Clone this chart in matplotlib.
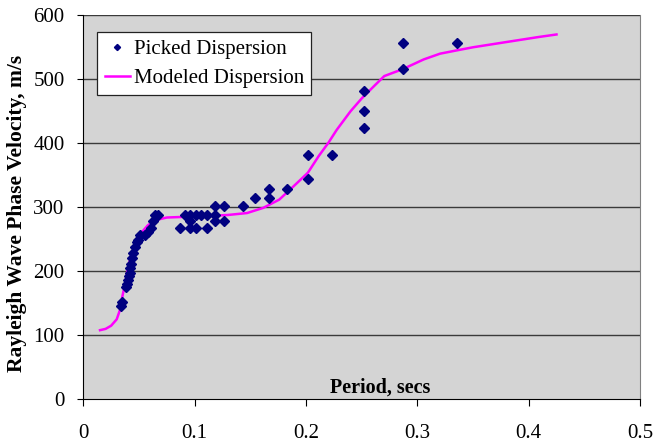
import matplotlib
matplotlib.use("Agg")
import matplotlib.pyplot as plt

# Picked dispersion points (period in s, phase velocity in m/s)
picked_period = [0.034, 0.035, 0.038, 0.039, 0.040, 0.041, 0.042, 0.042, 0.043, 0.044,
                 0.045, 0.046, 0.048, 0.0495, 0.051, 0.055, 0.058, 0.0607, 0.0627, 0.064,
                 0.067, 0.0872, 0.0913, 0.096, 0.101, 0.106, 0.111, 0.096, 0.096, 0.101,
                 0.111, 0.1186, 0.1186, 0.1186, 0.126, 0.126, 0.1437, 0.1546, 0.167, 0.167,
                 0.1826, 0.2017, 0.2017, 0.2232, 0.252, 0.252, 0.252, 0.2871, 0.2871, 0.3357]
picked_velocity = [145, 152, 175, 180, 186, 192, 198, 205, 212, 220,
                   228, 238, 245, 249, 257, 257, 262, 268, 278, 288,
                   288, 268, 288, 288, 288, 288, 288, 278, 268, 268,
                   268, 302, 288, 278, 302, 278, 302, 314, 328, 314,
                   328, 381, 344, 381, 481, 451, 424, 556, 516, 556]

# Modeled dispersion curve
model_period = [0.015, 0.02, 0.025, 0.03, 0.033, 0.035, 0.038, 0.04, 0.043, 0.047,
                0.052, 0.058, 0.065, 0.075, 0.09, 0.11, 0.13, 0.147, 0.1615, 0.176,
                0.1908, 0.2017, 0.2114, 0.2202, 0.2276, 0.24, 0.25, 0.2615, 0.2703, 0.2871,
                0.3057, 0.3204, 0.335, 0.35, 0.3793, 0.4088, 0.425]
model_velocity = [108, 110, 115, 125, 140, 160, 185, 205, 225, 245,
                  260, 272, 280, 284, 285, 286, 288, 291, 299, 312,
                  336, 354, 380, 401, 421, 450, 470, 490, 505, 516,
                  531, 540, 545, 550, 558, 566, 570]

xticks = [0, 0.1, 0.2, 0.3, 0.4, 0.5]
xtick_labels = ["0", "0.1", "0.2", "0.3", "0.4", "0.5"]
yticks = [0, 100, 200, 300, 400, 500, 600]

plt.rcParams['font.family'] = ['Liberation Serif', 'DejaVu Serif']

fig = plt.figure(figsize=(6.53, 4.44), dpi=100)
ax = fig.add_axes([0.1276, 0.1007, 0.8525, 0.8649])
ax.set_facecolor('#d4d4d4')

for y in yticks[1:]:
    ax.axhline(y, color='#3a3a3a', lw=1.0, zorder=1)

ax.plot(model_period, model_velocity, color='#ff00ff', lw=1.8, zorder=2,
        label='Modeled Dispersion')
ax.plot(picked_period, picked_velocity, linestyle='none', marker='D', ms=4.8,
        color='#000080', zorder=3, label='Picked Dispersion')

ax.set_xlim(0, 0.5)
ax.set_ylim(0, 600)
ax.set_xticks(xticks)
ax.set_xticklabels(xtick_labels)
ax.set_yticks(yticks)
ax.tick_params(axis='x', direction='out', length=5, pad=12.5, labelsize=15)
ax.tick_params(axis='y', direction='out', length=4.5, pad=9, labelsize=15)
ax.spines['top'].set_visible(False)
ax.spines['right'].set_color('#808080')
for s in ['left', 'bottom']:
    ax.spines[s].set_color('black')

ax.set_ylabel('Rayleigh Wave Phase Velocity, m/s', fontsize=15.5, fontweight='bold')
ax.yaxis.set_label_coords(-0.102, 0.485)
ax.set_xlabel('Period, secs', fontsize=14.5, fontweight='bold')
ax.xaxis.set_label_coords(0.533, 0.0555)

handles, labels = ax.get_legend_handles_labels()
leg = ax.legend(handles[::-1], labels[::-1], loc='upper left', bbox_to_anchor=(0.0251, 0.9557),
                borderaxespad=0, fontsize=15, frameon=True, fancybox=False,
                edgecolor='#222222', facecolor='white', framealpha=1, borderpad=0.35,
                handlelength=1.2, handletextpad=0.2, labelspacing=0.45, markerscale=0.65)
leg.get_frame().set_linewidth(0.9)

fig.savefig('out.png', dpi=100)
